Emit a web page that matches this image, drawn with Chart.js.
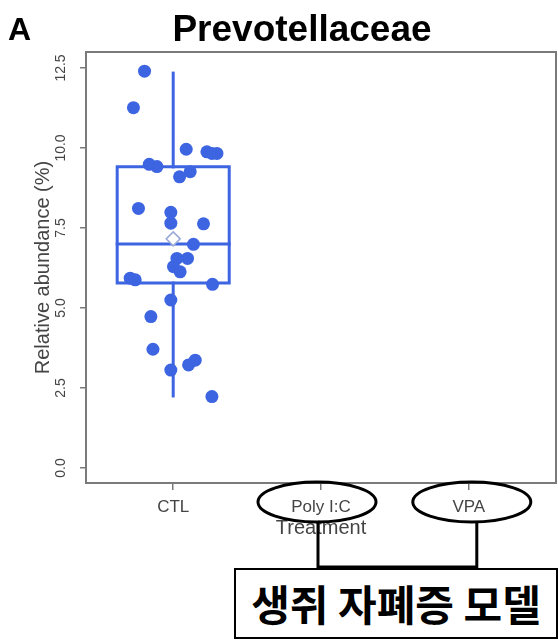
<!DOCTYPE html>
<html>
<head>
<meta charset="utf-8">
<script src="https://cdn.jsdelivr.net/npm/chart.js@4.4.0/dist/chart.umd.min.js"></script>
<style>
html,body{margin:0;padding:0;background:#fff;}
#wrap{position:relative;width:558px;height:640px;overflow:hidden;background:#fff;}
#c{position:absolute;left:0;top:0;}
.lbl{position:absolute;font-family:"Liberation Sans",Arial,sans-serif;font-weight:bold;color:#000;white-space:nowrap;}
#panel{left:8px;top:13px;font-size:32px;line-height:32px;}
#title{left:102px;top:10px;width:400px;text-align:center;font-size:37px;line-height:37px;}
#note{position:absolute;left:234px;top:568px;width:324px;height:71px;box-sizing:border-box;border:2px solid #000;background:#fff;
  font-family:"Noto Sans CJK KR",sans-serif;font-weight:700;font-size:42px;line-height:66px;text-align:center;color:#000;white-space:nowrap;}
</style>
</head>
<body>
<div id="wrap">
  <canvas id="c" width="558" height="640"></canvas>
  <div class="lbl" id="panel">A</div>
  <div class="lbl" id="title">Prevotellaceae</div>
  <div id="note">생쥐 자폐증 모델</div>
</div>
<script>
// ---- data ----
const categories = ['CTL', 'Poly I:C', 'VPA'];
const ctlValues = [12.4, 11.26, 9.96, 9.88, 9.83, 9.83, 9.49, 9.42, 9.26, 9.10,
  8.11, 7.99, 7.65, 7.63, 6.99, 6.55, 6.55, 6.29, 6.13, 5.93,
  5.88, 5.74, 5.25, 4.73, 3.71, 3.37, 3.22, 3.06, 2.23];
const ctlJitter = [-0.194, -0.269, 0.088, 0.228, 0.262, 0.296, -0.162, -0.110, 0.115, 0.043,
  -0.235, -0.016, -0.016, 0.205, 0.137, 0.025, 0.097, 0.002, 0.047, -0.291,
  -0.257, 0.266, -0.016, -0.151, -0.137, 0.149, 0.104, -0.016, 0.262];
const ctlBox = [2.25, 5.78, 7.0, 9.41, 12.34]; // lower whisker, Q1, median, Q3, upper whisker
const ctlMean = [7.16];
const yTicks = [0, 2.5, 5, 7.5, 10, 12.5];
const yTickLabels = ['0.0', '2.5', '5.0', '7.5', '10.0', '12.5'];

// ---- styles ----
const BLUE = '#3d65e2';
const GREY = '#7a7a7a';
const HALF = 0.379;
const FONT = '"Liberation Sans", Arial, sans-serif';

const [wLo, q1, med, q3, wHi] = ctlBox;
const lineDs = (pts) => ({
  type: 'line', data: pts, showLine: true, borderColor: BLUE, borderWidth: 3,
  pointRadius: 0, fill: false, tension: 0, borderCapStyle: 'square', borderJoinStyle: 'miter'
});

const framePlugin = {
  id: 'frame',
  beforeDatasetsDraw(chart) {
    const {ctx, chartArea: a} = chart;
    ctx.save();
    ctx.strokeStyle = GREY; ctx.lineWidth = 2;
    ctx.strokeRect(a.left, a.top, a.right - a.left, a.bottom - a.top);
    ctx.restore();
  }
};

const notePlugin = {
  id: 'note',
  afterDraw(chart) {
    const {ctx} = chart;
    const xs = chart.scales.x;
    const p1 = xs.getPixelForValue(1) - 4;
    const p2 = xs.getPixelForValue(2) + 3;
    ctx.save();
    ctx.strokeStyle = '#000'; ctx.lineWidth = 3;
    [p1, p2].forEach(cx => {
      ctx.beginPath();
      ctx.ellipse(cx, 502, 59, 20, 0, 0, Math.PI * 2);
      ctx.stroke();
    });
    const lx1 = xs.getPixelForValue(1) - 3, lx2 = xs.getPixelForValue(2) + 8;
    ctx.beginPath();
    ctx.moveTo(lx1, 521); ctx.lineTo(lx1, 567); ctx.lineTo(lx2, 567); ctx.lineTo(lx2, 521);
    ctx.stroke();
    ctx.restore();
  }
};

new Chart(document.getElementById('c'), {
  type: 'scatter',
  data: {
    datasets: [
      { data: ctlMean.map(v => ({x: 0, y: v})), pointStyle: 'rectRot', pointRadius: 7,
        backgroundColor: '#ffffff', borderColor: '#9aa8d8', borderWidth: 1.5 },
      { data: ctlValues.map((v, i) => ({x: ctlJitter[i], y: v})), pointRadius: 6.5,
        backgroundColor: BLUE, borderWidth: 0 },
      lineDs([{x: -HALF, y: q1}, {x: HALF, y: q1}, {x: HALF, y: q3}, {x: -HALF, y: q3}, {x: -HALF, y: q1}]),
      lineDs([{x: -HALF, y: med}, {x: HALF, y: med}]),
      lineDs([{x: 0, y: q3}, {x: 0, y: wHi}]),
      lineDs([{x: 0, y: wLo}, {x: 0, y: q1}])
    ]
  },
  options: {
    responsive: false,
    animation: false,
    events: [],
    layout: { autoPadding: false, padding: { top: 52, right: 2, left: 0, bottom: 0 } },
    plugins: { legend: { display: false }, tooltip: { enabled: false }, title: { display: false } },
    scales: {
      x: {
        type: 'linear', min: -0.59, max: 2.59,
        afterBuildTicks: s => { s.ticks = categories.map((c, i) => ({value: i})); },
        afterFit: s => { s.height = 157; },
        ticks: { callback: v => categories[v], font: {family: FONT, size: 17}, color: '#444',
          padding: 7, autoSkip: false, maxRotation: 0, minRotation: 0 },
        grid: { drawOnChartArea: false, drawTicks: true, tickLength: 7, color: GREY, lineWidth: 1.5 },
        border: { display: false },
        title: { display: true, text: 'Treatment', font: {family: FONT, size: 20}, color: '#444',
          padding: { top: 0, bottom: 100 } }
      },
      y: {
        type: 'linear', min: -0.47, max: 13.0,
        afterBuildTicks: s => { s.ticks = yTicks.map(v => ({value: v})); },
        afterFit: s => { s.width = 86; },
        ticks: { callback: v => yTickLabels[yTicks.indexOf(v)], font: {family: FONT, size: 14}, color: '#444',
          padding: 5, minRotation: 90, maxRotation: 90, crossAlign: 'center', autoSkip: false },
        grid: { drawOnChartArea: false, drawTicks: true, tickLength: 6, color: GREY, lineWidth: 1.5 },
        border: { display: false },
        title: { display: true, text: 'Relative abundance (%)', font: {family: FONT, size: 20}, color: '#444',
          padding: { top: 31, bottom: 0 } }
      }
    }
  },
  plugins: [framePlugin, notePlugin]
});
</script>
</body>
</html>
